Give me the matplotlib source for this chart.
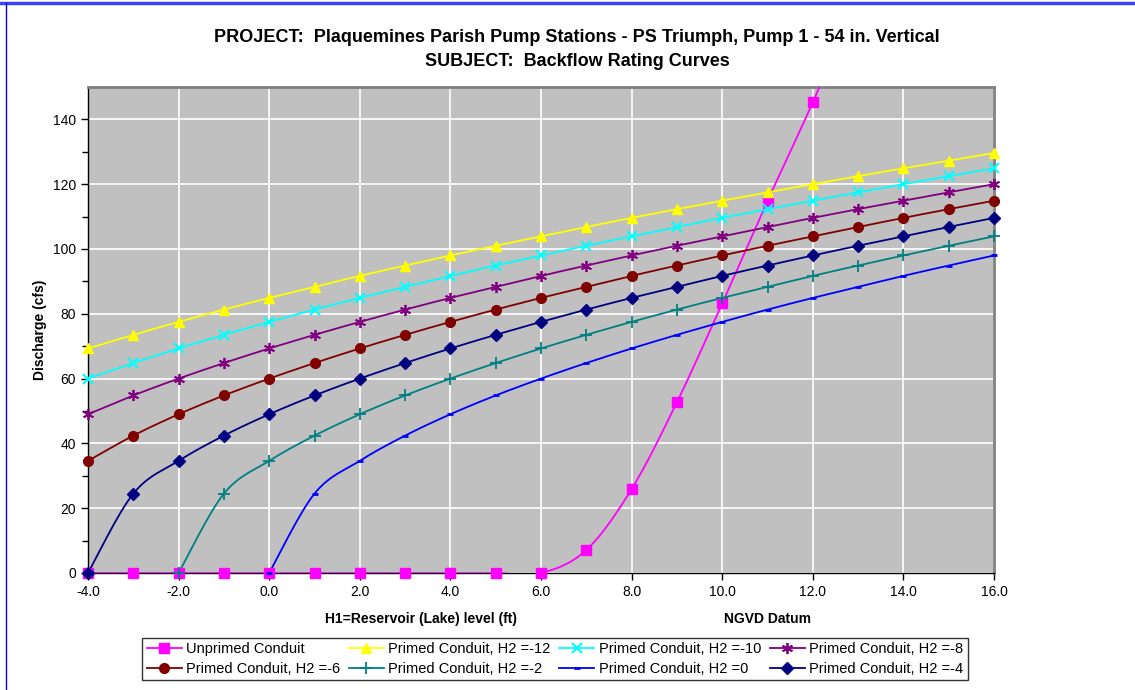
#!/usr/bin/env python3
# -*- coding: utf-8 -*-
import numpy as np
import matplotlib
matplotlib.use("Agg")
import matplotlib.pyplot as plt
from matplotlib.lines import Line2D

plt.rcParams['font.family'] = ['Liberation Sans', 'DejaVu Sans']

# reservoir level H1 (ft)
h1_all = [-4, -3, -2, -1, 0, 1, 2, 3, 4, 5, 6, 7, 8, 9, 10, 11, 12, 13, 14, 15, 16]

# unprimed conduit (last point is off the top of the chart)
h1_unprimed = [-4, -3, -2, -1, 0, 1, 2, 3, 4, 5, 6, 7, 8, 9, 10, 11, 12, 13]
q_unprimed = [0, 0, 0, 0, 0, 0, 0, 0, 0, 0, 0, 7.1, 25.9, 52.7, 83.2, 114.8, 145.3, 178.0]

# primed conduit curves, discharge (cfs)
q_h2_m12 = [69.3, 73.5, 77.5, 81.3, 84.9, 88.3, 91.7, 94.9, 98.0, 101.0, 103.9,
            106.8, 109.6, 112.3, 114.9, 117.5, 120.0, 122.5, 124.9, 127.3, 129.6]
q_h2_m10 = [60.0, 64.8, 69.3, 73.5, 77.5, 81.3, 84.9, 88.3, 91.7, 94.9, 98.0,
            101.0, 103.9, 106.8, 109.6, 112.3, 114.9, 117.5, 120.0, 122.5, 124.9]
q_h2_m8 = [49.0, 54.8, 60.0, 64.8, 69.3, 73.5, 77.5, 81.3, 84.9, 88.3, 91.7,
           94.9, 98.0, 101.0, 103.9, 106.8, 109.6, 112.3, 114.9, 117.5, 120.0]
q_h2_m6 = [34.6, 42.4, 49.0, 54.8, 60.0, 64.8, 69.3, 73.5, 77.5, 81.3, 84.9,
           88.3, 91.7, 94.9, 98.0, 101.0, 103.9, 106.8, 109.6, 112.3, 114.9]
q_h2_m4 = [0, 24.5, 34.6, 42.4, 49.0, 54.8, 60.0, 64.8, 69.3, 73.5, 77.5,
           81.3, 84.9, 88.3, 91.7, 94.9, 98.0, 101.0, 103.9, 106.8, 109.6]
h1_h2_m2 = [-2, -1, 0, 1, 2, 3, 4, 5, 6, 7, 8, 9, 10, 11, 12, 13, 14, 15, 16]
q_h2_m2 = [0, 24.5, 34.6, 42.4, 49.0, 54.8, 60.0, 64.8, 69.3, 73.5, 77.5,
           81.3, 84.9, 88.3, 91.7, 94.9, 98.0, 101.0, 103.9]
h1_h2_0 = [0, 1, 2, 3, 4, 5, 6, 7, 8, 9, 10, 11, 12, 13, 14, 15, 16]
q_h2_0 = [0, 24.5, 34.6, 42.4, 49.0, 54.8, 60.0, 64.8, 69.3, 73.5, 77.5,
          81.3, 84.9, 88.3, 91.7, 94.9, 98.0]

x_ticks = [-4, -2, 0, 2, 4, 6, 8, 10, 12, 14, 16]
y_ticks = [0, 20, 40, 60, 80, 100, 120, 140]


def smooth(x, y, n=30):
    # excel-like smoothed line (catmull-rom bezier)
    x = np.asarray(x, float)
    y = np.asarray(y, float)
    pts = np.column_stack([x, y])
    out = []
    for i in range(len(pts) - 1):
        p0 = pts[i - 1] if i > 0 else pts[i]
        p1 = pts[i]
        p2 = pts[i + 1]
        p3 = pts[i + 2] if i + 2 < len(pts) else pts[i + 1]
        c1 = p1 + (p2 - p0) / 6.0
        c2 = p2 - (p3 - p1) / 6.0
        t = np.linspace(0, 1, n)[:, None]
        seg = ((1 - t) ** 3) * p1 + 3 * ((1 - t) ** 2) * t * c1 + 3 * (1 - t) * t * t * c2 + t ** 3 * p2
        out.append(seg if i == 0 else seg[1:])
    s = np.vstack(out)
    return s[:, 0], s[:, 1]


series = [
    ("Unprimed Conduit", h1_unprimed, q_unprimed, "#FF00FF", "s", 7, None),
    ("Primed Conduit, H2 =-12", h1_all, q_h2_m12, "#FFFF00", "^", 7.5, None),
    ("Primed Conduit, H2 =-10", h1_all, q_h2_m10, "#00FFFF", "x", 7, 1.5),
    ("Primed Conduit, H2 =-8", h1_all, q_h2_m8, "#800080", (6, 2, 0), 8, 1.3),
    ("Primed Conduit, H2 =-6", h1_all, q_h2_m6, "#800000", "o", 7, None),
    ("Primed Conduit, H2 =-2", h1_h2_m2, q_h2_m2, "#008080", "+", 8, 1.3),
    ("Primed Conduit, H2 =0", h1_h2_0, q_h2_0, "#0000FF", "_", 5, 2.0),
    ("Primed Conduit, H2 =-4", h1_all, q_h2_m4, "#000080", "D", 6, None),
]

fig = plt.figure(figsize=(11.35, 6.9), dpi=100)
ax = fig.add_axes([88 / 1135, 1 - 573 / 690, (994 - 88) / 1135, (573 - 87) / 690])
ax.set_facecolor("#C0C0C0")

handles = []
for name, xs, ys, col, mk, ms, mew in series:
    sx, sy = smooth(xs, ys)
    ax.plot(sx, sy, color=col, lw=1.3, zorder=3)
    kw = dict(marker=mk, ms=ms, color=col, linestyle="none", zorder=4, clip_on=False)
    if mew is not None:
        kw["mew"] = mew
    # keep markers inside the plotted range
    mx = [a for a, b in zip(xs, ys) if b <= 150]
    my = [b for b in ys if b <= 150]
    ax.plot(mx, my, **kw)
    h = Line2D([0], [0], color=col, lw=1.3, marker=mk, ms=ms)
    if mew is not None:
        h.set_markeredgewidth(mew)
    handles.append((h, name))

ax.set_xlim(-4, 16)
ax.set_ylim(0, 150)
ax.set_xticks(x_ticks)
ax.set_xticklabels(["%.1f" % v for v in x_ticks])
ax.set_yticks(y_ticks)
ax.set_yticks(np.arange(10, 150, 20), minor=True)
ax.tick_params(axis="both", direction="out", length=5, width=1, labelsize=10, colors="black")
ax.tick_params(axis="y", which="minor", direction="out", length=4, width=1)
ax.grid(True, which="major", color="white", lw=1.2)
ax.set_axisbelow(True)
for side in ["top", "right"]:
    ax.spines[side].set_color("#808080")
    ax.spines[side].set_linewidth(2)
for side in ["left", "bottom"]:
    ax.spines[side].set_color("black")
    ax.spines[side].set_linewidth(1)

ax.set_ylabel("Discharge (cfs)", fontsize=10, fontweight="bold", labelpad=4)
fig.text(421 / 1135, 1 - 619 / 690, "H1=Reservoir (Lake) level (ft)", fontsize=10,
         fontweight="bold", ha="center", va="center")
fig.text(767 / 1135, 1 - 619 / 690, "NGVD Datum", fontsize=10,
         fontweight="bold", ha="center", va="center")

fig.text(577 / 1135, 1 - 37 / 690, "PROJECT:  Plaquemines Parish Pump Stations - PS Triumph, Pump 1 - 54 in. Vertical",
         fontsize=13, fontweight="bold", ha="center", va="center")
fig.text(577 / 1135, 1 - 61 / 690, "SUBJECT:  Backflow Rating Curves",
         fontsize=13, fontweight="bold", ha="center", va="center")

# legend is row-major in the original, matplotlib fills by column
order = [0, 4, 1, 5, 2, 6, 3, 7]
leg = fig.legend([handles[i][0] for i in order], [handles[i][1] for i in order],
                 ncol=4, loc="center", bbox_to_anchor=(555 / 1135, 1 - 659 / 690),
                 fontsize=10.5, frameon=True, fancybox=False, edgecolor="black",
                 handlelength=2.4, handletextpad=0.3, columnspacing=0.6,
                 borderpad=0.3, labelspacing=0.4)
leg.get_frame().set_linewidth(1)

# chart border (top and left edges show in blue)
fig.add_artist(Line2D([0, 1], [1 - 3 / 690, 1 - 3 / 690], color="#4040FF", lw=2.5,
                      transform=fig.transFigure))
fig.add_artist(Line2D([6 / 1135, 6 / 1135], [0, 1 - 3 / 690], color="#0000FF", lw=1,
                      transform=fig.transFigure))

fig.savefig("out.png", dpi=100)
